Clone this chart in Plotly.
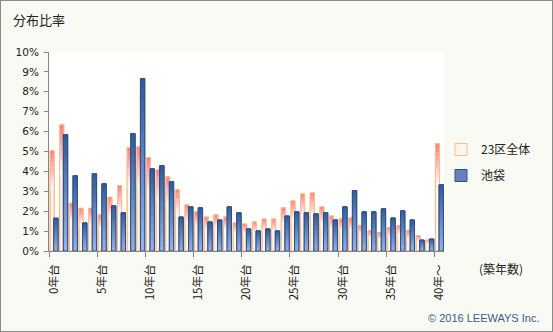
import plotly.graph_objects as go

# ---- data ----
years = list(range(41))
tick_positions = [0, 5, 10, 15, 20, 25, 30, 35, 40]
tick_labels = ["0年台", "5年台", "10年台", "15年台", "20年台", "25年台", "30年台", "35年台", "40年～"]
y_ticks = [0, 1, 2, 3, 4, 5, 6, 7, 8, 9, 10]
y_tick_labels = ["0%", "1%", "2%", "3%", "4%", "5%", "6%", "7%", "8%", "9%", "10%"]

ward23 = [5.04, 6.34, 2.40, 2.15, 2.15, 1.82, 2.70, 3.28, 5.19, 5.24,
          4.69, 4.08, 3.73, 3.08, 2.32, 1.97, 1.71, 1.82, 1.71, 1.41,
          1.36, 1.46, 1.61, 1.61, 2.17, 2.52, 2.87, 2.92, 2.22, 1.76,
          1.61, 1.66, 1.26, 1.01, 0.91, 1.16, 1.26, 1.01, 0.76, 0.55,
          5.39]
ikebukuro = [1.65, 5.85, 3.78, 1.41, 3.88, 3.38, 2.27, 1.92, 5.90, 8.67,
             4.13, 4.29, 3.48, 1.71, 2.22, 2.17, 1.46, 1.56, 2.22, 1.92,
             1.11, 1.01, 1.11, 1.01, 1.76, 1.97, 1.92, 1.87, 1.92, 1.56,
             2.22, 3.03, 1.97, 1.97, 2.12, 1.66, 2.02, 1.56, 0.55, 0.60,
             3.33]

# ---- styling ----
W, H = 553, 332
ML, MR, MT, MB = 49, 109, 52, 81
PW, PH = W - ML - MR, H - MT - MB

CJK = "Noto Sans CJK JP"
ORANGE_BORDER = "rgb(250,190,140)"
ORANGE_TOP = (249, 122, 128)
WHITE = (255, 255, 255)
BLUE_BORDER = "rgb(44,82,138)"
BLUE_TOP = (50, 88, 148)
BLUE_BOT = (152, 182, 226)

O_OFF, O_W = -0.39, 0.43
B_OFF, B_W = -0.01, 0.45


def lerp(c0, c1, t):
    return "rgb(%d,%d,%d)" % tuple(round(a + (b - a) * t) for a, b in zip(c0, c1))


def gradient_series(fig, values, name, offset, width, border, legend_fill,
                    top_col, bot_col, fade_frac, nseg):
    # base bar (legend entry)
    fig.add_trace(go.Bar(x=years, y=values, name=name, offset=offset, width=width,
                         marker=dict(color=legend_fill, line=dict(color=border, width=1)),
                         legendgroup=name, hoverinfo="skip"))
    # gradient segments from the top of each bar downward
    for k in range(nseg):
        t0 = fade_frac * k / nseg
        t1 = fade_frac * (k + 1) / nseg
        tm = (k + 0.5) / nseg
        base = [v * (1 - t1) for v in values]
        seg = [v * (t1 - t0) * 1.02 for v in values]
        fig.add_trace(go.Bar(x=years, y=seg, base=base, offset=offset, width=width,
                             marker=dict(color=lerp(top_col, bot_col, tm), line=dict(width=0)),
                             legendgroup=name, showlegend=False, hoverinfo="skip"))
    # outline on top
    fig.add_trace(go.Bar(x=years, y=values, offset=offset, width=width,
                         marker=dict(color="rgba(0,0,0,0)", line=dict(color=border, width=1)),
                         legendgroup=name, showlegend=False, hoverinfo="skip"))


fig = go.Figure()
gradient_series(fig, ward23, "23区全体", O_OFF, O_W, ORANGE_BORDER, "rgb(255,244,238)",
                ORANGE_TOP, WHITE, 0.4, 10)
gradient_series(fig, ikebukuro, "池袋", B_OFF, B_W, BLUE_BORDER, "rgb(98,130,185)",
                BLUE_TOP, BLUE_BOT, 1.0, 16)

fig.update_layout(
    width=W, height=H,
    margin=dict(l=ML, r=MR, t=MT, b=MB, pad=0),
    paper_bgcolor="#f8faf3",
    plot_bgcolor="#ffffff",
    barmode="overlay",
    title=dict(text="分布比率", x=13 / W, y=1 - 20 / H, xref="container", yref="container",
               xanchor="left", yanchor="middle",
               font=dict(family=CJK, size=13, color="#222")),
    legend=dict(x=(441 - ML) / PW, y=(251 - 135) / PH, xanchor="left", yanchor="top",
                bgcolor="rgba(0,0,0,0)", font=dict(family=CJK, size=12, color="#222"),
                tracegroupgap=7, traceorder="grouped"),
    showlegend=True,
)

fig.update_xaxes(
    range=[-0.5, 40.5], tickmode="array", tickvals=tick_positions, ticktext=tick_labels,
    tickangle=-90, ticks="outside", ticklen=0, showgrid=False, zeroline=False,
    showline=True, linecolor="#868686", linewidth=1, ticklabelstandoff=8,
    minor=dict(tickmode="array", tickvals=[p - 0.5 for p in tick_positions],
               ticks="outside", ticklen=5, tickcolor="#868686", showgrid=False),
    tickfont=dict(family=CJK, size=11.5, color="#222"),
)
fig.update_yaxes(
    range=[0, 10], tickmode="array", tickvals=y_ticks, ticktext=y_tick_labels,
    ticks="outside", ticklen=4, tickcolor="#868686", showgrid=False, zeroline=False,
    showline=True, linecolor="#868686", linewidth=1, ticklabelstandoff=3,
    tickfont=dict(family="DejaVu Sans", size=10.5, color="#222"),
)

fig.add_annotation(text="(築年数)", xref="paper", yref="paper",
                   x=(501 - ML) / PW, y=(251 - 268) / PH, showarrow=False,
                   xanchor="center", yanchor="middle",
                   font=dict(family=CJK, size=12, color="#222"))
fig.add_annotation(text="© 2016 LEEWAYS Inc.", xref="paper", yref="paper",
                   x=(541 - ML) / PW, y=(251 - 318) / PH, showarrow=False,
                   xanchor="right", yanchor="middle",
                   font=dict(family="Liberation Sans", size=11, color="#3d5a8c"))

fig.add_shape(type="rect", xref="paper", yref="paper",
              x0=-ML / PW, x1=1 + MR / PW, y0=-MB / PH, y1=1 + MT / PH,
              line=dict(color="#8a8a8a", width=2), fillcolor="rgba(0,0,0,0)", layer="above")

fig.write_html("out.html")
